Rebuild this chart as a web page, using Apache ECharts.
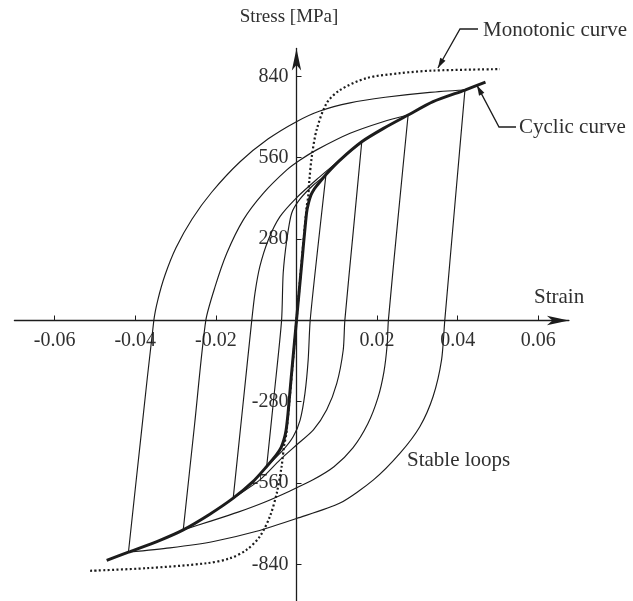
<!DOCTYPE html>
<html>
<head>
<meta charset="utf-8">
<script src="https://cdn.jsdelivr.net/npm/echarts@6/dist/echarts.min.js"></script>
<style>
  html, body { margin: 0; padding: 0; background: #ffffff; }
  #chart { width: 633px; height: 601px; }
</style>
</head>
<body>
<div id="chart"></div>
<script>
// Tick positions on both axes
const strainTicks = [-0.06, -0.04, -0.02, 0.02, 0.04, 0.06];
const stressTicks = [-840, -560, -280, 280, 560, 840];

// Cyclic stress-strain curve [strain, stress MPa]
const cyclicCurve = [
  [-0.0471, -826], [-0.0417, -798], [-0.0339, -757], [-0.0281, -721], [-0.0216, -668],
  [-0.0157, -612], [-0.0108, -555], [-0.0074, -503], [-0.0050, -463], [-0.0038, -437],
  [-0.0031, -410], [-0.0026, -380], [-0.0021, -320], [-0.0013, -195], [0, 0],
  [0.0013, 195], [0.0025, 370], [0.0030, 405], [0.0036, 432], [0.0043, 450],
  [0.0050, 463], [0.0075, 505], [0.0108, 552], [0.0162, 615], [0.0216, 661],
  [0.0277, 707], [0.0339, 753], [0.0418, 793], [0.0469, 820]
];

// Monotonic tension / compression curve
const monotonicCurve = [
  [-0.0512, -862], [-0.0372, -853], [-0.0223, -836], [-0.0165, -819], [-0.0124, -790],
  [-0.0091, -744], [-0.0066, -675], [-0.0049, -595], [-0.0037, -503], [-0.0031, -434],
  [-0.0025, -388], [0, 0], [0.0025, 388], [0.0029, 426], [0.0032, 484], [0.0038, 564],
  [0.0050, 656], [0.0075, 748], [0.0108, 793], [0.0174, 834], [0.0257, 851],
  [0.0339, 860], [0.0505, 865]
];

// Stable hysteresis loops: rising (loading) and falling (unloading) branches
const loop1Rise = [
  [-0.0417, -798], [-0.0386, -400], [-0.0354, 0], [-0.0344, 71], [-0.0326, 157],
  [-0.0299, 250], [-0.0259, 349], [-0.0210, 442], [-0.0140, 546], [-0.0070, 625],
  [0.0001, 685], [0.0058, 721], [0.0133, 749], [0.0220, 768], [0.0331, 785], [0.0418, 793]
];
const loop1Fall = [
  [0.0418, 793], [0.0393, 397], [0.0368, 0], [0.0360, -136], [0.0339, -262],
  [0.0306, -366], [0.0257, -457], [0.0191, -549], [0.0108, -629], [0, -682],
  [-0.0099, -726], [-0.0206, -761], [-0.0314, -783], [-0.0417, -798]
];
const loop2Rise = [
  [-0.0281, -721], [-0.0253, -360], [-0.0225, 0], [-0.0202, 116], [-0.0173, 231],
  [-0.0132, 346], [-0.0082, 438], [-0.0024, 518], [0.0009, 552], [0.0050, 587],
  [0.0133, 644], [0.0215, 684], [0.0277, 707]
];
const loop2Fall = [
  [0.0277, 707], [0.0252, 353], [0.0228, 0], [0.0225, -84], [0.0217, -177],
  [0.0202, -267], [0.0177, -356], [0.0140, -439], [0.0093, -504], [0.0041, -549],
  [-0.0016, -587], [-0.0078, -625], [-0.0145, -660], [-0.0215, -692], [-0.0281, -721]
];
const loop3Rise = [
  [-0.0157, -612], [-0.0134, -306], [-0.0111, 0], [-0.0103, 94], [-0.0091, 185],
  [-0.0070, 277], [-0.0041, 357], [0, 422], [0.0050, 485], [0.0108, 553], [0.0162, 615]
];
const loop3Fall = [
  [0.0162, 615], [0.0141, 308], [0.0120, 0], [0.0116, -102], [0.0100, -217],
  [0.0075, -308], [0.0042, -377], [0, -429], [-0.0041, -480], [-0.0091, -549],
  [-0.0157, -612]
];
const loop4Rise = [
  [-0.0074, -503], [-0.0055, -250], [-0.0037, 0], [-0.0033, 162], [-0.0024, 277],
  [-0.0012, 369], [0.0009, 418], [0.0042, 466], [0.0073, 500]
];
const loop4Fall = [
  [0.0073, 500], [0.0053, 251], [0.0034, 0], [0.0029, -136], [0.0021, -251],
  [0.0009, -343], [-0.0008, -400], [-0.0033, -446], [-0.0074, -503]
];

// Points the callout arrows aim at (on the curves)
const monotonicPointer = [0.0351, 869];
const cyclicPointer = [0.0448, 809];

const FONT = '"Liberation Serif", "Times New Roman", serif';
const INK = '#1c1c1c';
const TEXT = '#303030';

const chart = echarts.init(document.getElementById('chart'), null, { renderer: 'canvas' });

function thinLoop(data) {
  return {
    type: 'line', data: data, smooth: 0.25, symbol: 'none', silent: true, z: 3,
    lineStyle: { color: INK, width: 1.15 }
  };
}

// The grid spans the full plotting field; both axes are pulled inward
// (negative offset) so they cross at the origin and carry their labels along.
chart.setOption({
  animation: false,
  backgroundColor: '#ffffff',
  grid: { left: 14.4, width: 554.5, top: 48.5, height: 552.5,
    containLabel: false, outerBoundsMode: 'none' },
  xAxis: {
    type: 'value', min: -0.07, max: 0.0676, position: 'bottom', offset: -280.5,
    axisLine: {
      onZero: false, symbol: ['none', 'arrow'], symbolSize: [7, 22],
      lineStyle: { color: INK, width: 1.3 }
    },
    axisTick: { show: true, inside: true, length: 5, customValues: strainTicks,
      lineStyle: { color: INK, width: 1 } },
    axisLabel: { customValues: strainTicks, formatter: v => v.toFixed(2), margin: 10,
      fontFamily: FONT, fontSize: 20, color: TEXT },
    splitLine: { show: false }
  },
  yAxis: {
    type: 'value', min: -966, max: 936, position: 'left', offset: -282.1,
    axisLine: {
      onZero: false, symbol: ['none', 'arrow'], symbolSize: [7, 22],
      lineStyle: { color: INK, width: 1.3 }
    },
    axisTick: { show: true, inside: true, length: 5, customValues: stressTicks,
      lineStyle: { color: INK, width: 1 } },
    axisLabel: { customValues: stressTicks, formatter: v => String(v), margin: 8,
      fontFamily: FONT, fontSize: 20, color: TEXT },
    splitLine: { show: false }
  },
  series: [
    thinLoop(loop1Rise), thinLoop(loop1Fall),
    thinLoop(loop2Rise), thinLoop(loop2Fall),
    thinLoop(loop3Rise), thinLoop(loop3Fall),
    thinLoop(loop4Rise), thinLoop(loop4Fall),
    {
      type: 'line', data: monotonicCurve, smooth: 0.3, symbol: 'none', silent: true, z: 4,
      lineStyle: { color: INK, width: 2.2, type: [2, 2.4] }
    },
    {
      type: 'line', data: cyclicCurve, smooth: 0.25, symbol: 'none', silent: true, z: 5,
      lineStyle: { color: INK, width: 3 }
    }
  ]
});

// Callouts: text labels with leader lines ending in an arrowhead on the curve
function arrowHead(tip, from, len, half) {
  const dx = tip[0] - from[0], dy = tip[1] - from[1];
  const d = Math.hypot(dx, dy);
  const ux = dx / d, uy = dy / d;
  const bx = tip[0] - ux * len, by = tip[1] - uy * len;
  return [tip, [bx - uy * half, by + ux * half], [bx + uy * half, by - ux * half]];
}

const monoTip = chart.convertToPixel({ gridIndex: 0 }, monotonicPointer);
const cycTip = chart.convertToPixel({ gridIndex: 0 }, cyclicPointer);
const monoElbow = [460, 29], monoEnd = [478, 29];
const cycElbow = [499, 127], cycEnd = [516, 127];

function label(text, x, y, align, size) {
  return {
    type: 'text', x: x, y: y, silent: true,
    style: { text: text, fontFamily: FONT, fontSize: size || 21, fill: TEXT,
      align: align || 'left', verticalAlign: 'middle' }
  };
}

chart.setOption({
  graphic: [
    label('Stress [MPa]', 289, 17, 'center', 19),
    label('Strain', 534, 297),
    label('Stable loops', 407, 460),
    label('Monotonic curve', 483, 30),
    label('Cyclic curve', 519, 127),
    { type: 'polyline', silent: true, shape: { points: [monoEnd, monoElbow, monoTip] },
      style: { stroke: INK, lineWidth: 1.3, fill: null } },
    { type: 'polygon', silent: true, shape: { points: arrowHead(monoTip, monoElbow, 10, 3) },
      style: { fill: INK } },
    { type: 'polyline', silent: true, shape: { points: [cycEnd, cycElbow, cycTip] },
      style: { stroke: INK, lineWidth: 1.3, fill: null } },
    { type: 'polygon', silent: true, shape: { points: arrowHead(cycTip, cycElbow, 10, 3) },
      style: { fill: INK } }
  ]
});
</script>
</body>
</html>
